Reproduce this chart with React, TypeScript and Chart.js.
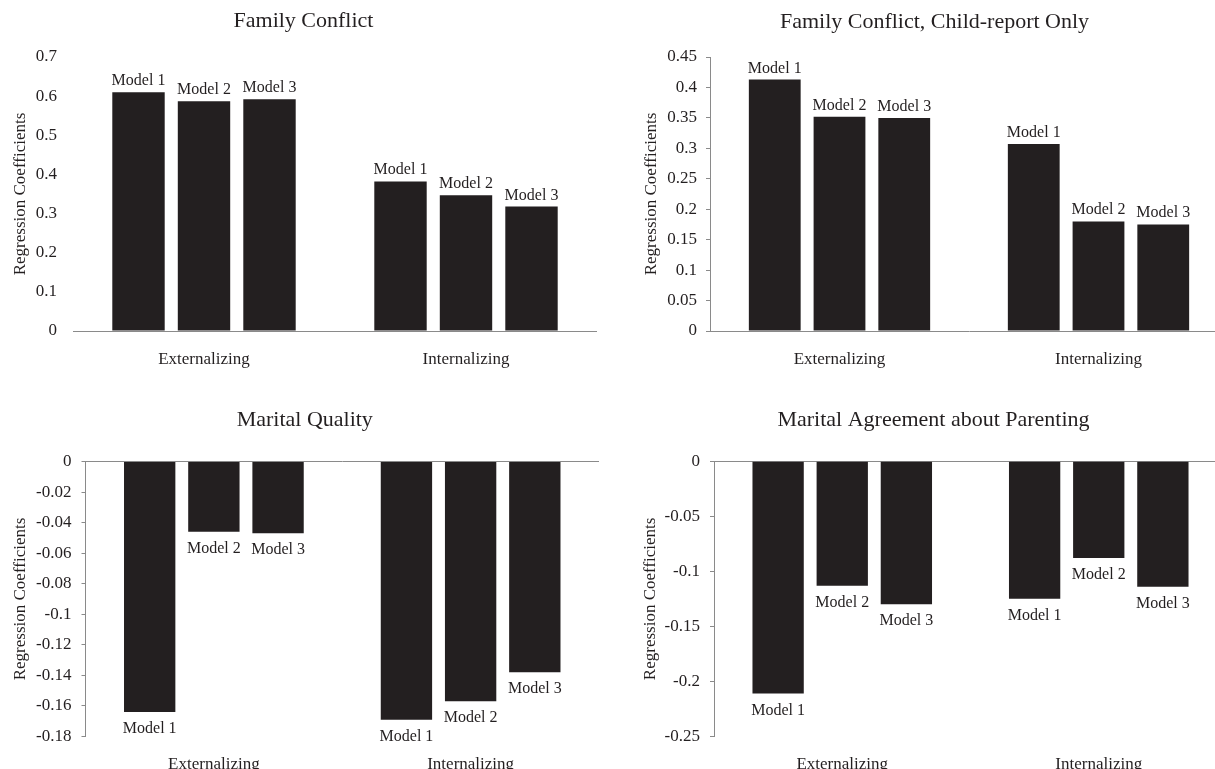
import React, { useEffect, useRef } from 'react';
import { Chart, registerables } from 'chart.js';

Chart.register(...registerables);

// ---------- data ----------
const categories = ['Externalizing', 'Internalizing'];
const modelNames = ['Model 1', 'Model 2', 'Model 3'];

// Family Conflict
const fcModel1 = [0.61, 0.382];
const fcModel2 = [0.587, 0.347];
const fcModel3 = [0.592, 0.318];
const fcTicks = { min: 0, max: 0.7, step: 0.1 };

// Family Conflict, Child-report Only
const fccModel1 = [0.413, 0.307];
const fccModel2 = [0.352, 0.18];
const fccModel3 = [0.35, 0.175];
const fccTicks = { min: 0, max: 0.45, step: 0.05 };

// Marital Quality
const mqModel1 = [-0.164, -0.169];
const mqModel2 = [-0.046, -0.157];
const mqModel3 = [-0.047, -0.138];
const mqTicks = { min: -0.18, max: 0, step: 0.02 };

// Marital Agreement about Parenting
const mapModel1 = [-0.211, -0.125];
const mapModel2 = [-0.113, -0.088];
const mapModel3 = [-0.13, -0.114];
const mapTicks = { min: -0.25, max: 0, step: 0.05 };

const yAxisTitle = 'Regression Coefficients';

// ---------- style ----------
const FONT = '"Liberation Serif", "Times New Roman", Times, serif';
const INK = '#231f20';
const AXIS = '#8a8a8a';

type PanelSpec = {
  title: string;
  series: number[][];
  ticks: { min: number; max: number; step: number };
  box: { left: number; top: number; width: number; height: number };
  padLeft: number;
  titleTop: number;
  titleBottom: number;
  yWidth: number;
  xHeight: number;
  tickPad: number;
  tickLen: number;
  yBorder: boolean;
};

const panels: PanelSpec[] = [
  {
    title: 'Family Conflict',
    series: [fcModel1, fcModel2, fcModel3],
    ticks: fcTicks,
    box: { left: 0, top: 0, width: 597, height: 385 },
    padLeft: 10,
    titleTop: 8.3,
    titleBottom: 22.3,
    yWidth: 63,
    xHeight: 54,
    tickPad: 16,
    tickLen: 0,
    yBorder: false,
  },
  {
    title: 'Family Conflict, Child-report Only',
    series: [fccModel1, fccModel2, fccModel3],
    ticks: fccTicks,
    box: { left: 600, top: 0, width: 628, height: 385 },
    padLeft: 41,
    titleTop: 8.8,
    titleBottom: 21.8,
    yWidth: 69,
    xHeight: 54,
    tickPad: 9,
    tickLen: 4,
    yBorder: true,
  },
  {
    title: 'Marital Quality',
    series: [mqModel1, mqModel2, mqModel3],
    ticks: mqTicks,
    box: { left: 0, top: 390, width: 599, height: 400 },
    padLeft: 10.5,
    titleTop: 17.3,
    titleBottom: 27.8,
    yWidth: 75,
    xHeight: 53.5,
    tickPad: 10,
    tickLen: 4,
    yBorder: true,
  },
  {
    title: 'Marital Agreement about Parenting',
    series: [mapModel1, mapModel2, mapModel3],
    ticks: mapTicks,
    box: { left: 600, top: 390, width: 627, height: 400 },
    padLeft: 40,
    titleTop: 17.3,
    titleBottom: 27.5,
    yWidth: 74,
    xHeight: 53.5,
    tickPad: 10,
    tickLen: 4,
    yBorder: true,
  },
];

const modelLabelPlugin = {
  id: 'modelLabels',
  afterDatasetsDraw(chart: any) {
    const ctx = chart.ctx;
    ctx.save();
    ctx.font = `16px ${FONT}`;
    ctx.fillStyle = INK;
    ctx.textAlign = 'center';
    ctx.textBaseline = 'alphabetic';
    chart.data.datasets.forEach((ds: any, i: number) => {
      const meta = chart.getDatasetMeta(i);
      meta.data.forEach((bar: any, j: number) => {
        const v = ds.data[j];
        const { x, y } = bar.getProps(['x', 'y'], true);
        const yy = v >= 0 ? y - 7 : y + 21;
        ctx.fillText(ds.label, x, yy);
      });
    });
    ctx.restore();
  },
};

const fmt = (v: any) => String(Math.round(Number(v) * 1000) / 1000);

function Panel({ spec }: { spec: PanelSpec }) {
  const ref = useRef<HTMLCanvasElement | null>(null);
  useEffect(() => {
    if (!ref.current) return;
    const chart = new Chart(ref.current, {
      type: 'bar',
      data: {
        labels: categories,
        datasets: spec.series.map((d, i) => ({
          label: modelNames[i],
          data: d,
          backgroundColor: INK,
          borderWidth: 0,
          categoryPercentage: 0.75,
          barPercentage: 0.8,
        })),
      },
      options: {
        responsive: false,
        animation: false,
        devicePixelRatio: 1,
        layout: { padding: { left: spec.padLeft, right: 0, top: 0, bottom: 0 } },
        plugins: {
          legend: { display: false },
          tooltip: { enabled: false },
          title: {
            display: true,
            text: spec.title,
            color: INK,
            font: { family: FONT, size: 22, weight: 'normal' },
            padding: { top: spec.titleTop, bottom: spec.titleBottom },
          },
        },
        scales: {
          x: {
            grid: { display: false },
            border: { display: false },
            ticks: { color: INK, font: { family: FONT, size: 17 }, padding: 10 },
            afterFit: (s: any) => {
              s.height = spec.xHeight;
            },
          },
          y: {
            min: spec.ticks.min,
            max: spec.ticks.max,
            ticks: {
              stepSize: spec.ticks.step,
              color: INK,
              font: { family: FONT, size: 17 },
              padding: spec.tickPad,
              callback: (v: any) => fmt(v),
            },
            grid: {
              display: true,
              drawOnChartArea: true,
              drawTicks: spec.tickLen > 0,
              tickLength: spec.tickLen,
              tickColor: AXIS,
              lineWidth: 1,
              color: (c: any) => (c.tick && c.tick.value === 0 ? AXIS : 'rgba(0,0,0,0)'),
            },
            border: { display: spec.yBorder, color: AXIS, width: 1 },
            title: {
              display: true,
              text: yAxisTitle,
              color: INK,
              font: { family: FONT, size: 17 },
              padding: 0,
            },
            afterFit: (s: any) => {
              s.width = spec.yWidth;
            },
          },
        },
      } as any,
      plugins: [modelLabelPlugin],
    });
    return () => chart.destroy();
  }, [spec]);
  const { left, top, width, height } = spec.box;
  return (
    <canvas
      ref={ref}
      width={width}
      height={height}
      style={{ position: 'absolute', left, top, width, height }}
    />
  );
}

export default function App() {
  return (
    <div
      style={{
        position: 'fixed',
        left: 0,
        top: 0,
        width: 1215,
        height: 769,
        overflow: 'hidden',
        background: '#ffffff',
      }}
    >
      {panels.map((p) => (
        <Panel key={p.title} spec={p} />
      ))}
    </div>
  );
}
